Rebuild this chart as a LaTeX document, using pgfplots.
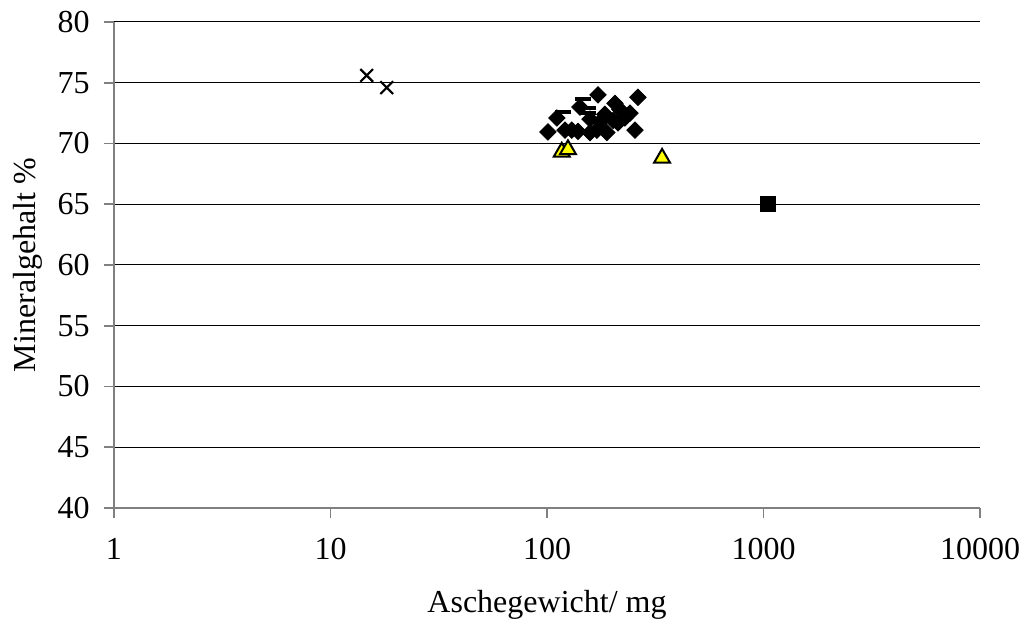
\documentclass[border=0pt,12pt]{standalone}
\usepackage{fontspec}
\setmainfont{Liberation Serif}
\usepackage{pgfplots}
\pgfplotsset{compat=1.18}
\definecolor{axgray}{HTML}{808080}
\definecolor{triyellow}{HTML}{FFFF00}

\begin{document}
\begin{tikzpicture}
\begin{semilogxaxis}[
  scale only axis,
  width=433pt, height=243pt,
  xmin=1, xmax=10000, ymin=40, ymax=80,
  xtick={1,10,100,1000,10000},
  xticklabels={1,10,100,1000,10000},
  xminorticks=false,
  ytick={40,45,...,80},
  /pgf/number format/assume math mode=true,
  axis lines=left,
  axis line style={-, draw=axgray, line width=0.8pt},
  tick style={draw=axgray, line width=0.8pt},
  tick align=outside,
  major tick length=5pt,
  ymajorgrids,
  grid style={black, line width=0.5pt},
  tick label style={font=\fontsize{16}{19}\selectfont},
  xticklabel style={yshift=-6pt},
  yticklabel style={xshift=-3pt},
  xlabel={Aschegewicht/ mg},
  ylabel={Mineralgehalt \%},
  label style={font=\fontsize{16}{19}\selectfont},
  xlabel style={at={(axis description cs:0.5,-0.2)}, anchor=center},
  ylabel style={at={(axis description cs:-0.1,0.5)}, anchor=center},
  clip=false,
]
% crosses
\addplot[only marks, mark=x, mark size=4.5pt, mark options={line width=1.1pt, black}] coordinates {
  (14.7,75.6) (18.2,74.6)
};
% diamonds
\addplot[only marks, mark=square*, mark size=2.9pt, mark options={rotate=45, black, fill=black}] coordinates {
  (101,70.95) (111,72.1) (121,71.1) (130,71.1) (139,71.0) (142,73.0)
  (158,70.9) (158,72.0) (172,74.0) (170,71.1) (176,71.8) (185,72.4)
  (189,70.9) (202,71.9) (206,73.3) (213,71.7) (217,72.8) (229,72.1)
  (242,72.5) (255,71.1) (263,73.8)
};
% dashes
\addplot[only marks, mark=-, mark size=4pt, mark options={line width=2pt, black}] coordinates {
  (147,73.7) (155,72.9) (119,72.6) (155,72.5)
};
% triangles
\addplot[only marks, mark=triangle*, mark size=4.6pt, mark options={draw=black, fill=triyellow, line width=1pt}] coordinates {
  (117,69.3) (125,69.5) (340,68.8)
};
% square
\addplot[only marks, mark=square*, mark size=3.7pt, mark options={black, fill=black}] coordinates {
  (1050,65.0)
};
\end{semilogxaxis}
\pgfresetboundingbox
\path (-57pt,-61pt) rectangle (456pt,254pt);
\end{tikzpicture}
\end{document}
